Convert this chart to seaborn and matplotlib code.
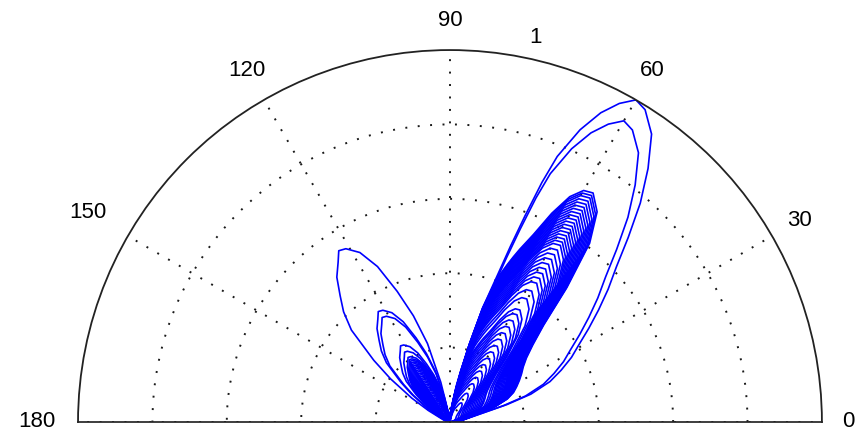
import numpy as np
import pandas as pd
import matplotlib
matplotlib.use("Agg")
import matplotlib.pyplot as plt
import seaborn as sns

# ---- data ----
angle_deg = [0, 5, 10, 14, 17, 19, 22, 25, 28, 31,
             34, 37, 40, 43, 46, 49, 52, 55, 58, 60,
             62, 64, 66, 68, 69, 70, 71, 72, 74, 76,
             78, 80, 83, 86, 90, 94, 97, 100, 103, 106,
             109, 112, 115, 118, 121, 123, 125, 128, 131, 134,
             137, 141, 144, 148, 152, 156, 160, 164, 168, 172,
             176, 180]

# normalised shape of the two largest curves in the main (~60 deg) lobe
main_wide = [0.02, 0.03, 0.04, 0.07, 0.16, 0.23, 0.29, 0.33, 0.37, 0.405,
             0.45, 0.50, 0.555, 0.612, 0.69, 0.78, 0.865, 0.945, 0.99, 1.00,
             0.97, 0.925, 0.86, 0.77, 0.69, 0.59, 0.50, 0.42, 0.32, 0.21,
             0.145, 0.10, 0.05, 0.03, 0.02, 0, 0, 0, 0, 0,
             0, 0, 0, 0, 0, 0, 0, 0, 0, 0,
             0, 0, 0, 0, 0, 0, 0, 0, 0, 0,
             0, 0]

# normalised shape of the inner (dense) curves of the main lobe
main_narrow = [0.02, 0.03, 0.05, 0.08, 0.13, 0.18, 0.23, 0.26, 0.28, 0.30,
               0.32, 0.34, 0.37, 0.42, 0.50, 0.66, 0.84, 0.95, 1.00, 0.99,
               0.945, 0.86, 0.76, 0.69, 0.655, 0.62, 0.585, 0.55, 0.44, 0.30,
               0.19, 0.12, 0.06, 0.03, 0.02, 0, 0, 0, 0, 0,
               0, 0, 0, 0, 0, 0, 0, 0, 0, 0,
               0, 0, 0, 0, 0, 0, 0, 0, 0, 0,
               0, 0]

# normalised shape of the secondary (~123 deg) lobe
side_shape = [0, 0, 0, 0, 0, 0, 0, 0, 0, 0,
              0, 0, 0, 0, 0, 0, 0, 0, 0, 0,
              0, 0, 0, 0, 0, 0, 0, 0, 0, 0,
              0, 0, 0, 0, 0.01, 0.01, 0.02, 0.05, 0.20, 0.40,
              0.55, 0.69, 0.84, 0.94, 0.99, 1.00, 0.955, 0.90, 0.82, 0.75,
              0.66, 0.48, 0.36, 0.22, 0.12, 0.06, 0.04, 0.03, 0.02, 0.02,
              0.02, 0.02]

# peak level of each curve in the two lobes (first two use the wide shape)
n_wide = 2
main_peak = [1.00, 0.935, 0.726, 0.718, 0.71, 0.70, 0.69, 0.68, 0.67, 0.66,
             0.65, 0.64, 0.63, 0.62, 0.61, 0.60, 0.59, 0.58, 0.57, 0.56,
             0.545, 0.53, 0.515, 0.50, 0.485, 0.47, 0.455, 0.44, 0.415, 0.39,
             0.355, 0.34, 0.32, 0.30, 0.28, 0.26, 0.24, 0.22, 0.20, 0.18,
             0.16, 0.14, 0.12, 0.09, 0.06]
side_peak = [0.549, 0.354, 0.335, 0.244, 0.224, 0.207, 0.20, 0.195, 0.19, 0.185,
             0.18, 0.175, 0.17, 0.165, 0.16, 0.155, 0.15, 0.145, 0.14, 0.135,
             0.13, 0.125, 0.12, 0.115, 0.11, 0.105, 0.10, 0.095, 0.09, 0.085,
             0.08, 0.075, 0.07, 0.065, 0.06, 0.055, 0.05, 0.045, 0.04, 0.035,
             0.03, 0.025, 0.02, 0.02, 0.015]

theta_ticks = [0, 30, 60, 90, 120, 150, 180]
theta_labels = ["0", "30", "60", "90", "120", "150", "180"]
ring_values = [0.2, 0.4, 0.6, 0.8]
ring_label = "1"

# ---- build long table ----
th = np.deg2rad(angle_deg)
wide = np.array(main_wide)
narrow = np.array(main_narrow)
side = np.array(side_shape)
rows = []
for i, (a, b) in enumerate(zip(main_peak, side_peak)):
    shape = wide if i < n_wide else narrow
    r = a * shape + b * side
    rows.append(pd.DataFrame({"theta": th, "r": r, "curve": i}))
df = pd.concat(rows, ignore_index=True)

sns.set_theme(style="white")
plt.rcParams["font.family"] = ["Liberation Sans", "DejaVu Sans"]

fig = plt.figure(figsize=(8.68, 4.41), dpi=100)
# square axes box; the half-disc fills its full width and the middle half of its height
ax = fig.add_axes([0.0899, -0.3787, 0.857, 1.687], projection="polar")
ax.set_thetamin(0)
ax.set_thetamax(180)
ax.set_rlim(0, 1)

sns.lineplot(data=df, x="theta", y="r", units="curve", estimator=None,
             sort=False, color="#0000ff", linewidth=1.2, ax=ax, legend=False)

ax.set_xlabel("")
ax.set_ylabel("")
ax.set_thetagrids(theta_ticks, labels=[""] * len(theta_ticks))
ax.set_rgrids(ring_values, labels=[""] * len(ring_values))
ax.grid(True, color="#1a1a1a", linestyle=(0, (1, 5.4)), linewidth=1.4)
ax.spines["polar"].set_color("#222222")
ax.spines["polar"].set_linewidth(1.3)
for s in ("start", "end", "inner"):
    if s in ax.spines:
        ax.spines[s].set_visible(False)

label_r = [1.07, 1.085, 1.09, 1.08, 1.09, 1.125, 1.11]
for t, lab, rr in zip(theta_ticks, theta_labels, label_r):
    ax.text(np.deg2rad(t), rr, lab, ha="center", va="center",
            fontsize=16, color="black", clip_on=False)
ax.text(np.deg2rad(77.5), 1.06, ring_label, ha="center", va="center",
        fontsize=16, color="black", clip_on=False)

fig.savefig("out.png", dpi=100)
